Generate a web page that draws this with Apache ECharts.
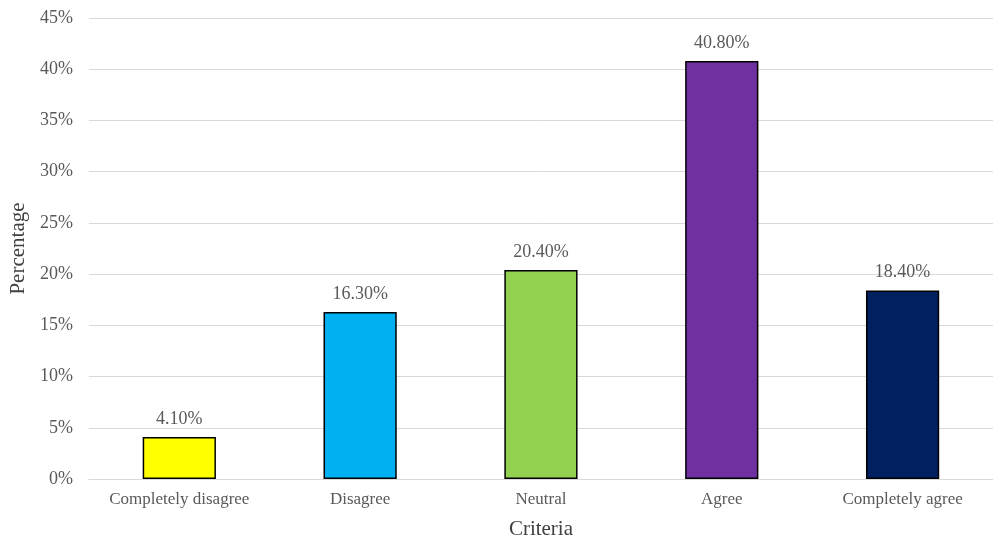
<!DOCTYPE html>
<html>
<head>
<meta charset="utf-8">
<script src="https://cdn.jsdelivr.net/npm/echarts@6/dist/echarts.min.js"></script>
<style>
  html, body { margin: 0; padding: 0; background: #fff; }
  #chart { width: 993px; height: 545px; }
</style>
</head>
<body>
<div id="chart"></div>
<script>
// Response categories and their shares (percent)
const categories = ['Completely disagree', 'Disagree', 'Neutral', 'Agree', 'Completely agree'];
const percentages = [4.1, 16.3, 20.4, 40.8, 18.4];
const barColors = ['#FFFF00', '#00B0F0', '#92D050', '#7030A0', '#002060'];

const FONT = '"Liberation Serif", "Times New Roman", serif';
const TEXT = '#595959';

const chart = echarts.init(document.getElementById('chart'));
chart.setOption({
  animation: false,
  grid: { left: 86.5, right: -7, top: 18, bottom: 62.5 },
  xAxis: {
    type: 'category',
    data: categories,
    name: 'Criteria',
    nameLocation: 'middle',
    nameGap: 40,
    nameTextStyle: { fontFamily: FONT, fontSize: 21, color: '#404040' },
    axisLine: { show: true, lineStyle: { color: '#d9d9d9', width: 1 } },
    axisTick: { show: false },
    axisLabel: { interval: 0, hideOverlap: false, fontFamily: FONT, fontSize: 17, color: TEXT, margin: 12 }
  },
  yAxis: {
    type: 'value',
    min: 0,
    max: 45,
    interval: 5,
    name: 'Percentage',
    nameLocation: 'middle',
    nameGap: 58,
    nameTextStyle: { fontFamily: FONT, fontSize: 21, color: '#404040' },
    axisLine: { show: false },
    axisTick: { show: false },
    axisLabel: { fontFamily: FONT, fontSize: 18, color: TEXT, margin: 16, formatter: v => v + '%' },
    splitLine: { lineStyle: { color: '#d9d9d9', width: 1 } }
  },
  series: [{
    type: 'bar',
    barWidth: '40.5%',
    data: percentages.map((v, i) => ({
      value: v,
      itemStyle: { color: barColors[i], borderColor: '#000', borderWidth: 1.5 }
    })),
    label: {
      show: true,
      position: 'top',
      distance: 9,
      fontFamily: FONT,
      fontSize: 18,
      color: TEXT,
      formatter: p => p.value.toFixed(2) + '%'
    }
  }]
});
</script>
</body>
</html>
